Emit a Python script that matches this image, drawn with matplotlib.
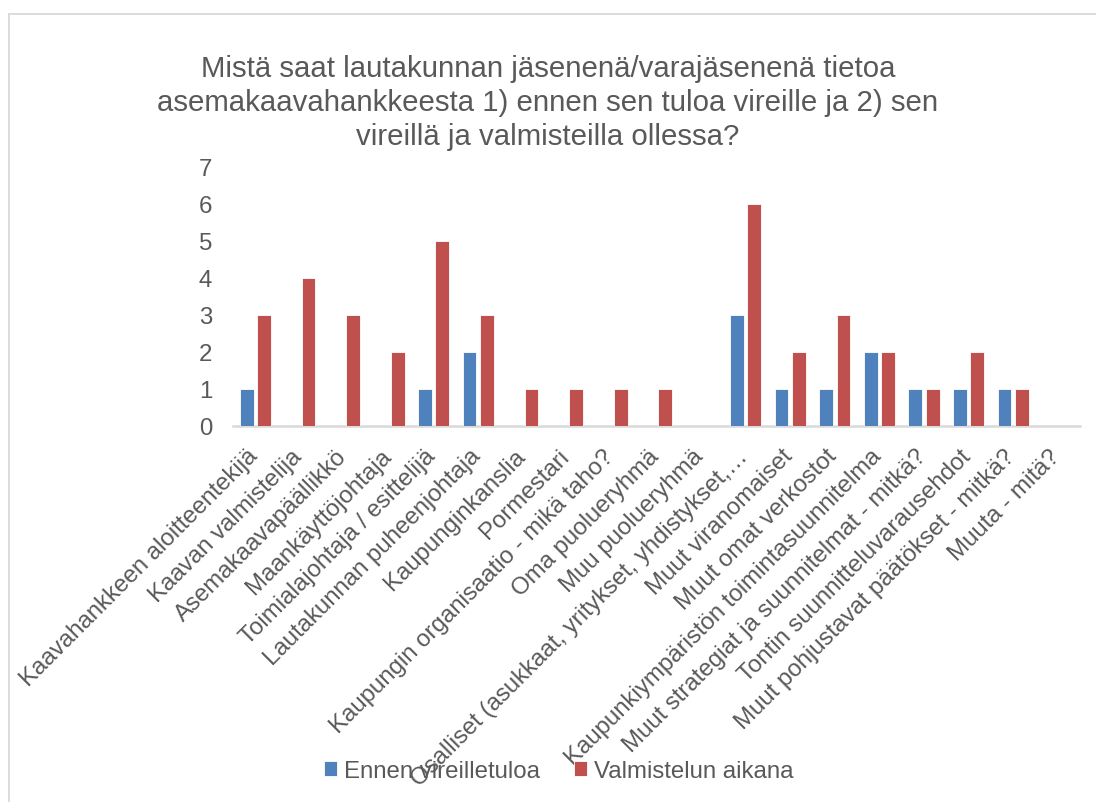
import matplotlib
matplotlib.use("Agg")
import matplotlib.pyplot as plt
import matplotlib.transforms as mtransforms
import numpy as np
from matplotlib.lines import Line2D

plt.rcParams['font.family'] = ['Liberation Sans', 'DejaVu Sans']

title = ("Mistä saat lautakunnan jäsenenä/varajäsenenä tietoa\n"
         "asemakaavahankkeesta 1) ennen sen tuloa vireille ja 2) sen\n"
         "vireillä ja valmisteilla ollessa?")

categories = [
    "Kaavahankkeen aloitteentekijä",
    "Kaavan valmistelija",
    "Asemakaavapäällikkö",
    "Maankäyttöjohtaja",
    "Toimialajohtaja / esittelijä",
    "Lautakunnan puheenjohtaja",
    "Kaupunginkanslia",
    "Pormestari",
    "Kaupungin organisaatio - mikä taho?",
    "Oma puolueryhmä",
    "Muu puolueryhmä",
    "Osalliset (asukkaat, yritykset, yhdistykset,…",
    "Muut viranomaiset",
    "Muut omat verkostot",
    "Kaupunkiympäristön toimintasuunnitelma",
    "Muut strategiat ja suunnitelmat - mitkä?",
    "Tontin suunnitteluvarausehdot",
    "Muut pohjustavat päätökset - mitkä?",
    "Muuta - mitä?",
]

ennen = [1, 0, 0, 0, 1, 2, 0, 0, 0, 0, 0, 3, 1, 1, 2, 1, 1, 1, 0]
valmistelu = [3, 4, 3, 2, 5, 3, 1, 1, 1, 1, 0, 6, 2, 3, 2, 1, 2, 1, 0]

series_names = ["Ennen vireilletuloa", "Valmistelun aikana"]
colors = ["#4F81BD", "#C0504D"]
text_color = "#595959"
fs = 17.3

W, H = 1096, 803
fig = plt.figure(figsize=(W / 100, H / 100), dpi=100)
ax = fig.add_axes([233 / W, 1 - 427 / H, (1080 - 233) / W, (427 - 168) / H])

x = np.arange(len(categories))
bw = 0.31
off = 0.195
ax.bar(x - off, ennen, bw, color=colors[0], edgecolor="white", linewidth=0.6,
       label=series_names[0], zorder=3)
ax.bar(x + off, valmistelu, bw, color=colors[1], edgecolor="white", linewidth=0.6,
       label=series_names[1], zorder=3)

ax.set_xlim(-0.5, len(categories) - 0.5)
ax.set_ylim(0, 7)
ax.set_yticks(range(0, 8))
ax.tick_params(axis='y', length=0, pad=15, labelsize=fs, labelcolor=text_color)
ax.tick_params(axis='x', length=0, pad=13.5)
ax.set_xticks(x)
ax.set_xticklabels(categories, rotation=45, ha='right', va='top',
                   rotation_mode='anchor', fontsize=fs, color=text_color)
shift = mtransforms.ScaledTranslation(-9 / 100, 0, fig.dpi_scale_trans)
for lab in ax.get_xticklabels():
    lab.set_transform(lab.get_transform() + shift)

for s in ['top', 'right', 'left']:
    ax.spines[s].set_visible(False)
ax.spines['bottom'].set_color('#d9d9d9')
ax.spines['bottom'].set_linewidth(1.8)

fig.text(0.5, 1 - 103 / H, title, ha='center', va='center', fontsize=21.2,
         color=text_color, linespacing=1.27)

leg = fig.legend(loc='center', bbox_to_anchor=(559 / W, 1 - 772 / H), ncol=2,
                 frameon=False, fontsize=fs, handlelength=0.55, handleheight=0.55,
                 handletextpad=0.3, columnspacing=1.4)
for t in leg.get_texts():
    t.set_color(text_color)

# outer chart frame
fig.add_artist(Line2D([8.5 / W, 8.5 / W], [0, 1 - 14.5 / H], transform=fig.transFigure,
                      color='#d9d9d9', linewidth=1.3))
fig.add_artist(Line2D([8.5 / W, 1], [1 - 14.5 / H, 1 - 14.5 / H], transform=fig.transFigure,
                      color='#d9d9d9', linewidth=1.3))

fig.savefig("out.png", dpi=100, facecolor='white')
